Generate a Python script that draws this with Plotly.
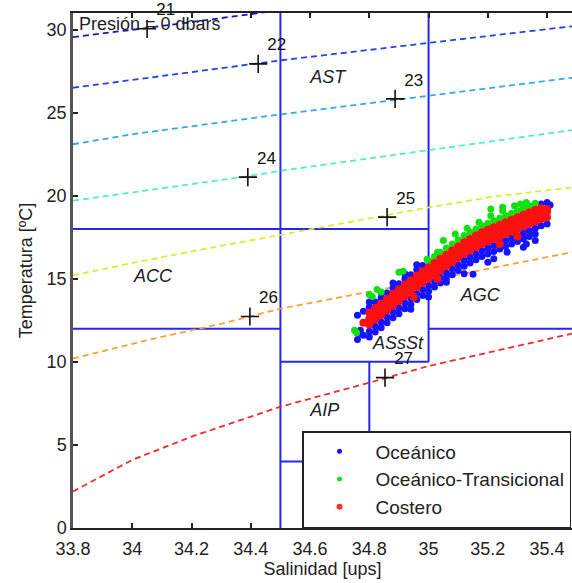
import plotly.graph_objects as go

# ---------------- data ----------------
# isopycnal (sigma-t) contours
c_levels = ["21", "22", "23", "24", "25", "26", "27"]
c21_sal = [33.8, 34.05, 34.45, 34.55]
c21_tem = [29.55, 30.1, 31.05, 31.25]
c22_sal = [33.8, 34.1, 34.5, 35.0, 35.484]
c22_tem = [26.5, 27.2, 28.15, 29.2, 30.2]
c23_sal = [33.8, 34.0, 34.5, 35.0, 35.484]
c23_tem = [23.1, 23.7, 24.9, 26.0, 27.1]
c24_sal = [33.8, 34.0, 34.4, 34.5, 35.0, 35.484]
c24_tem = [19.7, 20.2, 21.2, 21.5, 22.75, 23.95]
c25_sal = [33.8, 34.0, 34.23, 34.5, 35.0, 35.22, 35.484]
c25_tem = [15.2, 15.95, 16.75, 17.65, 19.3, 19.95, 20.5]
c26_sal = [33.8, 34.06, 34.29, 34.5, 35.0, 35.2, 35.484]
c26_tem = [10.2, 11.35, 12.25, 13.2, 14.9, 15.6, 16.6]
c27_sal = [33.8, 34.0, 34.2, 34.4, 34.5, 34.8, 35.0, 35.484]
c27_tem = [2.2, 4.1, 5.5, 6.7, 7.3, 8.75, 9.75, 11.7]

# contour label positions (+ markers)
lab_sal = [34.05, 34.425, 34.887, 34.39, 34.86, 34.397, 34.853]
lab_tem = [30.05, 27.94, 25.83, 21.12, 18.71, 12.73, 9.05]

# water-mass boundaries (segments)
box_s0 = [34.5, 35.0, 34.8, 33.8, 33.8, 34.5, 35.0, 34.5]
box_s1 = [34.5, 35.0, 34.8, 35.0, 34.5, 35.0, 35.5, 34.8]
box_t0 = [0, 10, 4, 18, 12, 10, 12, 4]
box_t1 = [31, 31, 10, 18, 12, 10, 12, 4]

# water-mass names
mass_names = ["AST", "ACC", "AGC", "ASsSt", "AIP"]
mass_sal = [34.66, 34.07, 35.174, 34.897, 34.65]
mass_tem = [27.04, 15.1, 13.94, 11.04, 7.0]

# Oceánico (blue) points
oce_sal = [34.76, 34.78, 34.80, 34.82, 34.84, 34.86, 34.88, 34.90, 34.92, 34.94, 34.96, 34.98,
           35.00, 35.02, 35.04, 35.06, 35.08, 35.10, 35.12, 35.14, 35.16, 35.18, 35.20, 35.22,
           35.24, 35.26, 35.28, 35.30, 35.32, 35.34, 35.36, 35.38, 35.40,
           34.80, 34.82, 34.84, 34.86, 34.88, 34.90, 34.92, 34.94, 34.96, 34.98, 35.00, 35.02,
           35.04, 35.06, 35.08, 35.10, 35.12, 35.14, 35.16, 35.18, 35.20, 35.22, 35.24, 35.26,
           35.28, 35.30, 35.32, 35.34, 35.36,
           34.76, 34.78, 34.80, 34.82, 34.84, 34.86, 34.88, 34.90, 34.92, 34.94, 34.96, 34.98,
           34.80, 34.84, 34.88, 34.92, 34.96,
           34.765, 34.77, 35.40, 35.38, 35.41, 35.265, 35.32, 35.20, 35.15, 35.06, 34.94,
           35.36, 35.33, 35.00, 35.12, 35.22]
oce_tem = [11.35, 11.60, 11.85, 12.15, 12.40, 12.70, 13.00, 13.25, 13.55, 13.80, 14.10, 14.35,
           14.60, 14.85, 15.10, 15.35, 15.60, 15.85, 16.10, 16.30, 16.50, 16.70, 16.85, 17.00,
           17.15, 17.30, 17.45, 17.60, 17.75, 17.90, 18.05, 18.20, 18.30,
           11.50, 11.80, 12.05, 12.35, 12.65, 12.90, 13.20, 13.45, 13.75, 14.00, 14.25, 14.50,
           14.75, 15.00, 15.25, 15.50, 15.75, 15.95, 16.15, 16.35, 16.50, 16.65, 16.80, 16.95,
           17.10, 17.25, 17.40, 17.55, 17.70,
           12.80, 13.05, 13.30, 13.60, 13.85, 14.15, 14.45, 14.70, 15.00, 15.25, 15.55, 15.80,
           13.60, 14.15, 14.75, 15.30, 15.85,
           11.70, 11.90, 19.60, 19.50, 19.45, 16.60, 16.90, 16.00, 15.27, 14.80, 13.16,
           17.30, 17.10, 13.90, 15.30, 16.20]

# Oceánico-Transicional (green) points
tra_sal = [35.00, 35.02, 35.04, 35.06, 35.08, 35.10, 35.12, 35.14, 35.16, 35.18, 35.20, 35.22,
           35.24, 35.26, 35.28, 35.30, 35.32, 35.34,
           35.05, 35.09, 35.13, 35.17, 35.21, 35.25, 35.29, 35.33,
           35.21, 35.25, 35.31, 35.36,
           34.75, 34.757, 34.80, 34.826, 34.90, 34.914, 34.995, 35.03, 34.81, 34.84]
tra_tem = [16.10, 16.35, 16.60, 16.85, 17.10, 17.35, 17.60, 17.80, 18.00, 18.20, 18.35, 18.50,
           18.65, 18.80, 18.95, 19.10, 19.25, 19.40,
           17.30, 17.70, 18.05, 18.40, 18.80, 19.10, 19.40, 19.60,
           19.20, 19.30, 19.50, 19.55,
           11.90, 11.75, 14.06, 14.36, 15.39, 15.45, 16.17, 16.60, 13.94, 14.20]

# Costero (red) points
cos_sal = [34.78, 34.80, 34.82, 34.84, 34.86, 34.88, 34.90, 34.92, 34.94, 34.96, 34.98, 35.00,
           35.02, 35.04, 35.06, 35.08, 35.10, 35.12, 35.14, 35.16, 35.18, 35.20, 35.22, 35.24,
           35.26, 35.28, 35.30, 35.32, 35.34, 35.36, 35.38, 35.40,
           34.80, 34.82, 34.84, 34.86, 34.88, 34.90, 34.92, 34.94, 34.96, 34.98, 35.00, 35.02,
           35.04, 35.06, 35.08, 35.10, 35.12, 35.14, 35.16, 35.18, 35.20, 35.22, 35.24, 35.26,
           35.28, 35.30, 35.32, 35.34, 35.36, 35.38, 35.40,
           34.80, 34.82, 34.84, 34.86, 34.88, 34.90, 34.92, 34.94, 34.96, 34.98, 35.00, 35.02,
           35.04, 35.06, 35.08, 35.10, 35.12, 35.14, 35.16, 35.18, 35.20, 35.22, 35.24, 35.26,
           35.28, 35.30, 35.32, 35.34, 35.36, 35.38, 35.40,
           34.95, 35.03, 35.24, 35.30]
cos_tem = [12.35, 12.60, 12.90, 13.15, 13.45, 13.75, 14.00, 14.30, 14.55, 14.85, 15.10, 15.35,
           15.60, 15.85, 16.10, 16.35, 16.60, 16.85, 17.05, 17.25, 17.45, 17.60, 17.75, 17.90,
           18.05, 18.20, 18.35, 18.50, 18.65, 18.80, 18.95, 19.05,
           12.25, 12.55, 12.80, 13.10, 13.40, 13.65, 13.95, 14.20, 14.50, 14.75, 15.00, 15.25,
           15.50, 15.75, 16.00, 16.25, 16.50, 16.70, 16.90, 17.10, 17.25, 17.40, 17.55, 17.70,
           17.85, 18.00, 18.15, 18.30, 18.45, 18.60, 18.70,
           12.95, 13.25, 13.50, 13.80, 14.10, 14.35, 14.65, 14.90, 15.20, 15.45, 15.70, 15.95,
           16.20, 16.45, 16.70, 16.95, 17.20, 17.40, 17.60, 17.80, 17.95, 18.10, 18.25, 18.40,
           18.55, 18.70, 18.85, 19.00, 19.15, 19.25, 19.20,
           13.90, 15.00, 17.10, 17.55]

series_names = ["Oceánico", "Oceánico-Transicional", "Costero"]

x_ticks = [33.8, 34.0, 34.2, 34.4, 34.6, 34.8, 35.0, 35.2, 35.4]
x_ticktext = ["33.8", "34", "34.2", "34.4", "34.6", "34.8", "35", "35.2", "35.4"]
y_ticks = [0, 5, 10, 15, 20, 25, 30]
y_ticktext = ["0", "5", "10", "15", "20", "25", "30"]

# ---------------- figure ----------------
FONT = "Liberation Sans, Arial, sans-serif"
fig = go.Figure()

# boundaries
bx, by = [], []
for s0, s1, t0, t1 in zip(box_s0, box_s1, box_t0, box_t1):
    bx += [s0, s1, None]
    by += [t0, t1, None]
fig.add_trace(go.Scatter(x=bx, y=by, mode="lines", line=dict(color="#2626f0", width=2),
                         showlegend=False, hoverinfo="skip"))

# contours
contours = [(c21_sal, c21_tem, "#1818b8"), (c22_sal, c22_tem, "#2244e8"),
            (c23_sal, c23_tem, "#30aaf0"), (c24_sal, c24_tem, "#4cf0c4"),
            (c25_sal, c25_tem, "#d6f02c"), (c26_sal, c26_tem, "#f8a232"),
            (c27_sal, c27_tem, "#f02a2a")]
for s, t, col in contours:
    fig.add_trace(go.Scatter(x=s, y=t, mode="lines",
                             line=dict(color=col, width=1.8, dash="6px,4px"),
                             showlegend=False, hoverinfo="skip"))

# scatter data
fig.add_trace(go.Scatter(x=oce_sal, y=oce_tem, mode="markers",
                         marker=dict(color="#1414ff", size=7), showlegend=False))
fig.add_trace(go.Scatter(x=tra_sal, y=tra_tem, mode="markers",
                         marker=dict(color="#12e012", size=7), showlegend=False))
fig.add_trace(go.Scatter(x=cos_sal, y=cos_tem, mode="markers",
                         marker=dict(color="#ff1010", size=8), showlegend=False))

# contour labels
fig.add_trace(go.Scatter(x=lab_sal, y=lab_tem, mode="markers+text", text=c_levels,
                         textposition="top right",
                         textfont=dict(family=FONT, size=17, color="#111"),
                         marker=dict(symbol="cross-thin", size=13,
                                     line=dict(color="#111", width=1.6)),
                         showlegend=False, hoverinfo="skip", cliponaxis=False))

# water mass names
fig.add_trace(go.Scatter(x=mass_sal, y=mass_tem, mode="text", text=mass_names,
                         textfont=dict(family=FONT, size=18, color="#222", style="italic"),
                         showlegend=False, hoverinfo="skip"))

# legend entries
leg_cols = ["#1414ff", "#12e012", "#ff3030"]
leg_sizes = [5, 5, 6]
for nm, col, sz in zip(series_names, leg_cols, leg_sizes):
    fig.add_trace(go.Scatter(x=[None], y=[None], mode="markers", name=nm,
                             marker=dict(color=col, size=sz)))

fig.add_annotation(x=33.812, y=30.36, xref="x", yref="y", text="Presión = 0 dbars",
                   showarrow=False, xanchor="left", yanchor="middle",
                   font=dict(family=FONT, size=18, color="#222"))

fig.update_layout(
    width=572, height=583,
    margin=dict(l=73, r=0, t=13, b=55, autoexpand=False),
    paper_bgcolor="white", plot_bgcolor="white",
    font=dict(family=FONT, size=18, color="#222"),
    showlegend=True,
    legend=dict(x=0.459, y=0.0, xanchor="left", yanchor="bottom",
                bgcolor="white", bordercolor="#222", borderwidth=1.5,
                font=dict(family=FONT, size=19, color="#222"),
                itemwidth=62),
    xaxis=dict(range=[33.8, 35.484], tickvals=x_ticks, ticktext=x_ticktext,
               ticks="inside", ticklen=5, tickwidth=1.5, tickcolor="#222",
               showline=True, linecolor="#222", linewidth=2, mirror="ticks",
               showgrid=False, zeroline=False, automargin=False, ticklabelstandoff=3,
               tickfont=dict(family=FONT, size=18, color="#222"),
               title=dict(text="Salinidad [ups]", font=dict(family=FONT, size=18, color="#222"),
                          standoff=2)),
    yaxis=dict(range=[0, 31], tickvals=y_ticks, ticktext=y_ticktext,
               ticks="inside", ticklen=5, tickwidth=1.5, tickcolor="#222",
               showline=True, linecolor="#555", linewidth=2.5, mirror=False,
               showgrid=False, zeroline=False, automargin=False,
               tickfont=dict(family=FONT, size=18, color="#222"),
               title=dict(text="Temperatura [ºC]", font=dict(family=FONT, size=18, color="#222"),
                          standoff=10)),
)

fig.write_html("out.html", config={"displayModeBar": False},
               post_script="document.body.style.margin='0px';document.body.style.overflow='hidden';")
